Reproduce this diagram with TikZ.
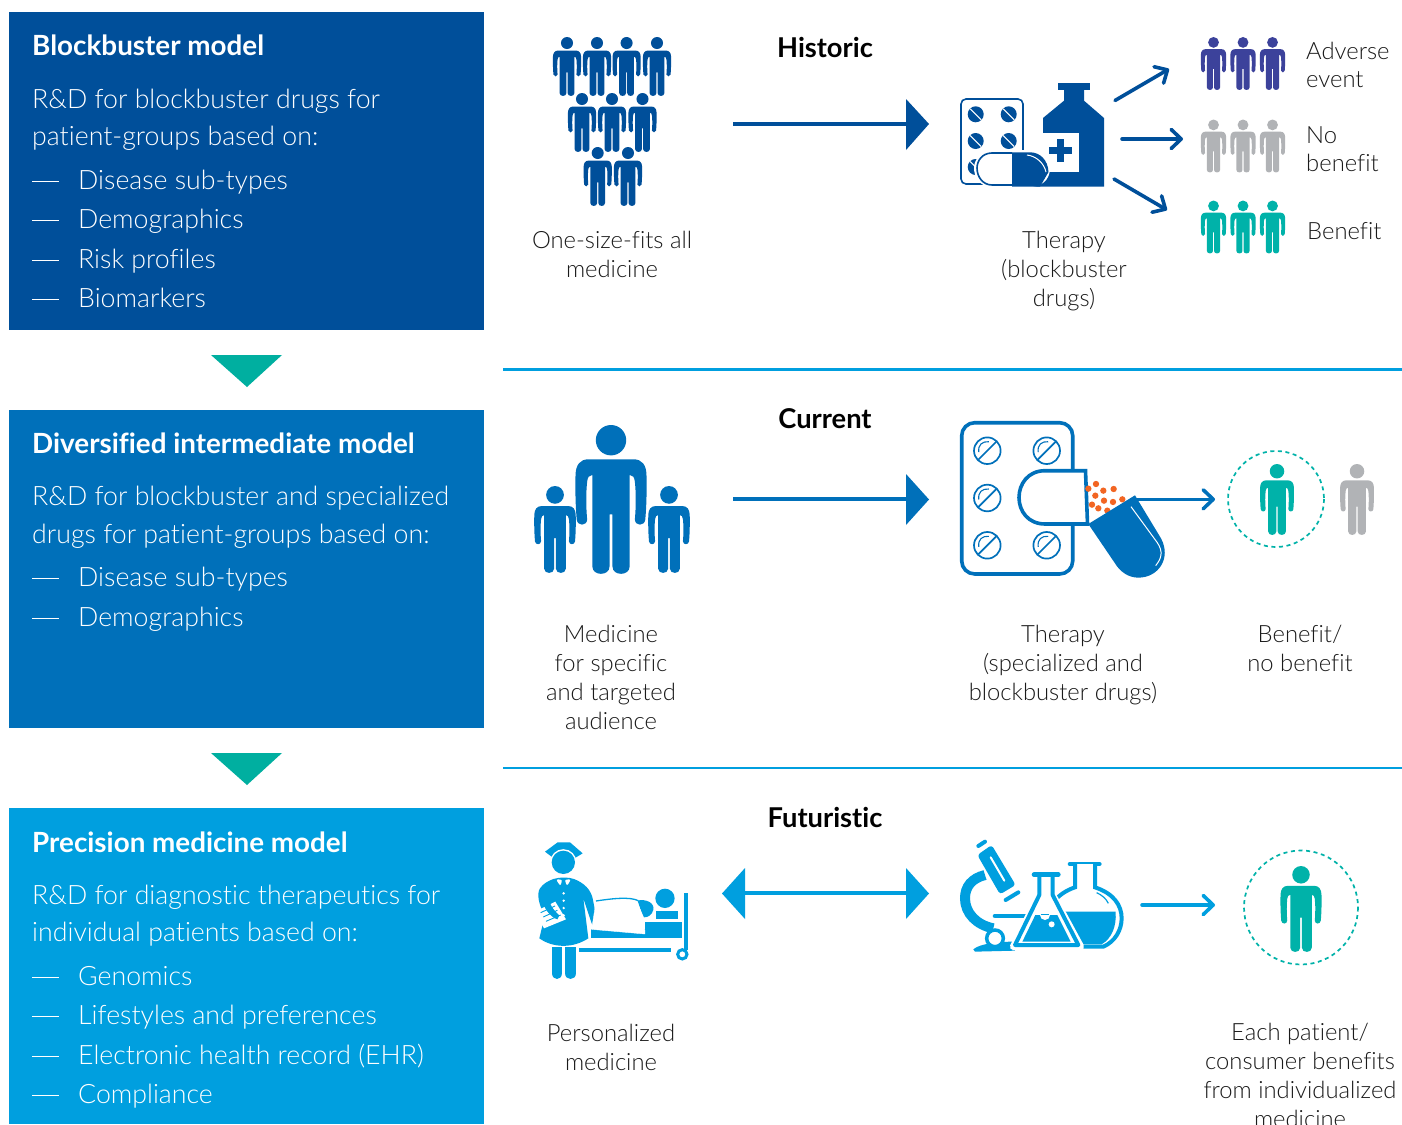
\documentclass[tikz,border=0pt]{standalone}
\usepackage{fontspec}
\usetikzlibrary{arrows.meta}
\IfFontExistsTF{Lato Light}{\setmainfont{Lato Light}[BoldFont=Lato Bold,Ligatures=NoCommon]}{\setmainfont{Liberation Sans}}
\definecolor{cA}{HTML}{004F9A}
\definecolor{cB}{HTML}{0070BA}
\definecolor{cC}{HTML}{009FDF}
\definecolor{teal}{HTML}{00B2A9}
\definecolor{tealB}{HTML}{00AFA0}
\definecolor{purp}{HTML}{3C429B}
\definecolor{gry}{HTML}{B1B3B6}
\definecolor{orng}{HTML}{F26522}
\definecolor{ink}{HTML}{1A1A1A}
\newcommand{\person}[4]{%
 \begin{scope}[shift={(#1,#2)},scale=#3/100]
 \fill[#4] (0,10.2) circle (10.2);
 \fill[#4] (-15,23) -- (15,23) .. controls (21,23) and (23.5,27) .. (23.8,33)
  .. controls (24.1,45) and (23.7,56) .. (23,63.5) .. controls (22.5,68) and (16.3,68) .. (16,63.5)
  .. controls (16.8,55) and (16.8,45) .. (16,38) .. controls (15.7,35) and (14.5,33.5) .. (12.5,33.5)
  -- (12.5,95) .. controls (12.5,101.5) and (1,101.5) .. (1,95) -- (1,60) -- (-1,60) -- (-1,95)
  .. controls (-1,101.5) and (-12.5,101.5) .. (-12.5,95) -- (-12.5,33.5)
  .. controls (-14.5,33.5) and (-15.7,35) .. (-16,38) .. controls (-16.8,45) and (-16.8,55) .. (-16,63.5)
  .. controls (-16.3,68) and (-22.5,68) .. (-23,63.5) .. controls (-23.7,56) and (-24.1,45) .. (-23.8,33)
  .. controls (-23.5,27) and (-21,23) .. (-15,23) -- cycle;
 \end{scope}}
\newcommand{\pillA}[2]{%
 \fill[cA] (#1,#2) circle (8);
 \draw[white,line width=1.1pt] (#1-5.5,#2-5.5) -- (#1+5.5,#2+5.5);}
\newcommand{\pillB}[2]{%
 \draw[cB,line width=1.7pt,fill=white] (#1,#2) circle (13.3);
 \draw[cB,line width=1.7pt] (#1-9,#2+9) -- (#1+9,#2-9);
 \draw[cB,line width=1.1pt] (#1-8.5,#2+1.5) .. controls (#1-9.5,#2-6) and (#1-5,#2-9.5) .. (#1+1.5,#2-9);}
\tikzset{
 pane/.style={anchor=north west,inner sep=0pt,minimum width=475pt},
 head/.style={anchor=base west,inner sep=0pt,text=white,font=\bfseries\fontsize{27.8}{30}\selectfont},
 body/.style={anchor=base west,inner sep=0pt,text=white,font=\fontsize{26.7}{30}\selectfont},
 dashmark/.style={white,line width=1pt},
 lab/.style={anchor=base,inner sep=0pt,text=ink,align=center,font=\fontsize{23.8}{29}\selectfont},
 labl/.style={anchor=base west,inner sep=0pt,text=ink,align=left,font=\fontsize{23.8}{28}\selectfont},
 era/.style={anchor=base,inner sep=0pt,text=black,font=\bfseries\fontsize{27.3}{30}\selectfont},
 fat/.style={line width=4.6pt},
 thin/.style={line width=3.6pt,line cap=round,-{Straight Barb[length=10pt,width=19pt,round]}},
 rule/.style={cC,line width=2.6pt},
}
\newcommand{\tick}[1]{\draw[dashmark] (32,#1) -- (59,#1);}
\begin{document}
\begin{tikzpicture}[x=1pt,y=-1pt]
\useasboundingbox (0,0) rectangle (1402,1124);
\fill[white] (0,0) rectangle (1402,1124);
% panes
\node[pane,fill=cA,minimum height=318pt] (p1) at (9,12) {};
\node[pane,fill=cB,minimum height=318pt] (p2) at (9,410) {};
\node[pane,fill=cC,minimum height=316pt] (p3) at (9,808) {};
\fill[tealB] (211,355) -- (282,355) -- (247,387) -- cycle;
\fill[tealB] (211,753) -- (282,753) -- (247,785) -- cycle;
\coordinate (r1a) at (503,369.5); \coordinate (r1b) at (1402,369.5);
\coordinate (r2a) at (503,768); \coordinate (r2b) at (1402,768);
\draw[rule] (r1a) -- (r1b);
\draw[rule] (r2a) -- (r2b);
% pane texts
\node[head] (t1) at (32,56) {Blockbuster model};
\node[body] (t1a) at (32,108) {R\&D for blockbuster drugs for};
\node[body] (t1b) at (32,145) {patient-groups based on:};
\node[body] (t1c) at (78,189) {Disease sub-types};
\node[body] (t1d) at (78,228) {Demographics};
\node[body] (t1e) at (78,268) {Risk profiles};
\node[body] (t1f) at (78,307) {Biomarkers};
\tick{181}\tick{220}\tick{260}\tick{299}
\node[head] (t2) at (32,453) {Diversified intermediate model};
\node[body] (t2a) at (32,505) {R\&D for blockbuster and specialized};
\node[body] (t2b) at (32,543) {drugs for patient-groups based on:};
\node[body] (t2c) at (78,586) {Disease sub-types};
\node[body] (t2d) at (78,626) {Demographics};
\tick{578}\tick{618}
\node[head] (t3) at (32,852) {Precision medicine model};
\node[body] (t3a) at (32,904) {R\&D for diagnostic therapeutics for};
\node[body] (t3b) at (32,941) {individual patients based on:};
\node[body] (t3c) at (78,985) {Genomics};
\node[body] (t3d) at (78,1024) {Lifestyles and preferences};
\node[body] (t3e) at (78,1064) {Electronic health record (EHR)};
\node[body] (t3f) at (78,1103) {Compliance};
\tick{977}\tick{1016}\tick{1056}\tick{1095}
% era labels
\node[era] (e1) at (825,57.5) {Historic};
\node[era] (e2) at (825,428.5) {Current};
\node[era] (e3) at (825,827.5) {Futuristic};
% labels (anchor = baseline of last line)
\node[lab] (l1) at (612,277) {One-size-fits all\\medicine};
\node[lab] (l2) at (1064,306) {Therapy\\(blockbuster\\drugs)};
\node[labl] (l3) at (1306,87) {Adverse\\event};
\node[labl] (l4) at (1306,171) {No\\benefit};
\node[labl] (l5) at (1307,239) {Benefit};
\node[lab] (l6) at (611,729) {Medicine\\for specific\\and targeted\\audience};
\node[lab] (l7) at (1063,700) {Therapy\\(specialized and\\blockbuster drugs)};
\node[lab] (l8) at (1300,671) {Benefit/\\no benefit};
\node[lab] (l9) at (611,1070) {Personalized\\medicine};
\node[lab] (l10) at (1300,1127.5) {Each patient/\\consumer benefits\\from individualized\\medicine};
% people row 1
\foreach \px in {567,597,626.6,657}{\person{\px}{37}{59}{cA}}
\foreach \px in {582,612,642.5}{\person{\px}{93}{59}{cA}}
\foreach \px in {597.7,628}{\person{\px}{147}{59}{cA}}
\foreach \px in {1213.5,1243,1272.5}{\person{\px}{37}{53}{purp}}
\foreach \px in {1213.5,1243,1272.5}{\person{\px}{119.5}{53}{gry}}
\foreach \px in {1213.5,1243,1272.5}{\person{\px}{200.5}{53}{teal}}
% big arrows
\coordinate (a1a) at (733,124); \coordinate (a1b) at (908,124);
\draw[cA,fat] (a1a) -- (a1b);
\fill[cA] (906,99) -- (929,124) -- (906,150) -- cycle;
\coordinate (a2a) at (733,499); \coordinate (a2b) at (908,499);
\draw[cB,fat] (a2a) -- (a2b);
\fill[cB] (906,474) -- (929,499.5) -- (906,525) -- cycle;
\coordinate (a3a) at (743,893); \coordinate (a3b) at (908,893);
\draw[cC,fat] (a3a) -- (a3b);
\fill[cC] (906,868) -- (929,893.5) -- (906,919) -- cycle;
\fill[cC] (745,868) -- (722,893.5) -- (745,919) -- cycle;
% small arrows
\coordinate (s1a) at (1115,100.5); \coordinate (s1b) at (1169,69);
\coordinate (s2a) at (1122,139); \coordinate (s2b) at (1183,139);
\coordinate (s3a) at (1114,179); \coordinate (s3b) at (1167,210);
\draw[cA,thin] (s1a) -- (s1b);
\draw[cA,thin] (s2a) -- (s2b);
\draw[cA,thin] (s3a) -- (s3b);
% historic therapy
\draw[cA,line width=1.6pt,rounded corners=5pt] (961,99) rectangle (1023,184);
\pillA{975.7}{114.3}\pillA{1008.7}{114.3}\pillA{975.7}{141}\pillA{1008.7}{141}\pillA{975.7}{167}
\fill[cA] (1057.7,83.3) rectangle (1090,90);
\fill[cA] (1064,90) -- (1084,90) -- (1084,100.7) -- (1104,118) -- (1104,186.7) -- (1032,186.7) -- (1043,171.7) -- (1043,118) -- (1064,100.7) -- cycle;
\fill[white] (1043,133) rectangle (1079,171.7);
\fill[cA] (1049,147) rectangle (1072,154.4);
\fill[cA] (1056.7,139) rectangle (1064.4,162.4);
\filldraw[draw=white,fill=white,line width=2pt] (992,151) -- (1032,151) .. controls (1042,151) and (1049,160) .. (1049,168) .. controls (1049,180) and (1040,186) .. (1030,186) -- (992,186) .. controls (980,186) and (975,176) .. (975,168) .. controls (975,160) and (982,151) .. (992,151) -- cycle;
\draw[cA,line width=1.6pt] (1012,153) -- (992,153) .. controls (982,153) and (977,161) .. (977,168) .. controls (977,177) and (983,185) .. (992,185) -- (1012,185);
\fill[cA] (1012,152.3) -- (1030,152.3) .. controls (1040,152.3) and (1048,160) .. (1048.5,172) -- (1040,186.7) -- (1012,186.7) -- cycle;
\draw[white,line width=1pt] (1027,155) .. controls (1036,156) and (1044,163) .. (1046,172);
% current therapy
\draw[cB,line width=3.6pt,rounded corners=13pt] (961.7,422.7) rectangle (1072.7,574);
\foreach \ya in {450.7,498,545.3}{\pillB{987.3}{\ya}\pillB{1046.7}{\ya}}
\filldraw[cB,fill=white,line width=3.6pt] (1085.5,470.7) -- (1045,470.7) .. controls (1028,470.7) and (1019,484) .. (1019,497.5) .. controls (1019,511) and (1028,524) .. (1045,524) -- (1087.5,524) -- cycle;
\begin{scope}[shift={(950,410)},scale=0.3333]
\foreach \dx/\dy in {415/236,438/222,460/242,491/237,436/257,462/272,489/276,517/268,426/284,445/295,472/302}
  \fill[orng] (\dx,\dy) circle (9.5);
\fill[cB] (415,342) -- (555,256) -- (633,385) .. controls (665,445) and (625,503) .. (565,503) .. controls (535,503) and (510,485) .. (495,460) -- cycle;
\draw[white,line width=1pt] (543,290) -- (622,398) .. controls (640,425) and (635,445) .. (617,467);
\end{scope}
\coordinate (s4a) at (1135,499.3); \coordinate (s4b) at (1215,499.3);
\draw[cB,thin] (s4a) -- (s4b);
% current people
\person{611}{425}{149}{cB}
\person{555}{486}{87}{cB}
\person{669}{486}{87}{cB}
\person{1277}{464}{71}{teal}
\person{1357}{464}{71}{gry}
\draw[teal,line width=1.7pt,dash pattern=on 4pt off 3.6pt] (1276,499) circle (48);
% futuristic people
\person{1301}{866}{86}{teal}
\draw[teal,line width=1.7pt,dash pattern=on 4pt off 3.6pt] (1301,907.5) circle (57);
\coordinate (s5a) at (1142,905); \coordinate (s5b) at (1215,905);
\draw[cC,thin] (s5a) -- (s5b);
% nurse
\begin{scope}[shift={(520,830)},scale=0.3333]
\fill[cC] (75,65) -- (113,37) -- (150,37) -- (188,70) -- (165,84) -- (100,84) -- cycle;
\fill[white] (130,97) circle (39.5);
\fill[cC] (130,97) circle (35);
\fill[cC] (100,147) .. controls (120,141) and (145,141) .. (162,147) .. controls (195,160) and (212,180) .. (218,205) -- (232,278) .. controls (232,290) and (218,292) .. (215,280) -- (190,205) -- (205,325) .. controls (160,355) and (100,355) .. (58,325) -- (75,255) .. controls (55,225) and (50,190) .. (60,175) .. controls (70,160) and (85,153) .. (100,147) -- cycle;
\fill[white,rounded corners=2pt] (108,148) -- (127,149) -- (121,168) -- cycle;
\fill[white,rounded corners=2pt] (153,148) -- (134,149) -- (141,168) -- cycle;
\foreach \by in {190,212,234,256}{\fill[white] (131,\by) circle (4);}
\fill[white] (45,245) -- (106,215) -- (138,268) -- (72,295) -- cycle;
\draw[cC,line width=0.9pt] (62,248) -- (105,228) (70,261) -- (112,241) (78,274) -- (122,255);
\fill[cC] (68,205) .. controls (66,228) and (90,262) .. (112,268) -- (118,256) .. controls (100,240) and (88,225) .. (88,205) -- cycle;
\fill[cC] (95,350) rectangle (127,430);
\fill[cC] (95,430) .. controls (95,453) and (127,453) .. (127,430) -- cycle;
\fill[cC] (135,350) rectangle (168,430);
\fill[cC] (135,430) .. controls (135,453) and (168,453) .. (168,430) -- cycle;
% bed
\fill[cC] (213,298) rectangle (380,325);
\fill[cC] (375,275) rectangle (487,325);
\fill[cC] (408,243) rectangle (475,268);
\fill[cC] (435,205) circle (29);
\fill[cC] (350,212) .. controls (380,205) and (405,220) .. (400,240) .. controls (395,255) and (385,262) .. (372,262) -- cycle;
\filldraw[draw=white,fill=white] (228,215) .. controls (280,205) and (330,203) .. (352,213) .. controls (365,250) and (375,285) .. (375,312) -- (215,298) -- cycle;
\draw[cC,line width=1.3pt] (228,213) .. controls (280,205) and (330,200) .. (355,212);
\fill[cC] (493,190) rectangle (505,360);
\draw[cC,line width=3pt] (487,373) circle (14);
\fill[cC] (177,355) rectangle (452,367);
\end{scope}
% lab
\begin{scope}[shift={(950,830)},scale=0.3333]
\draw[cC,line width=4pt,line cap=round] (85,48) -- (105,35);
\fill[cC,rounded corners=3pt] (82,75) -- (125,45) -- (197,165) -- (150,193) -- cycle;
\draw[white,line width=2pt,line cap=round] (122,82) -- (163,152);
\draw[cC,line width=4pt,line cap=round] (167,210) -- (205,187);
\draw[cC,line width=10pt] (105,135) .. controls (65,145) and (45,170) .. (45,205) .. controls (45,250) and (80,285) .. (130,295);
\draw[cC,line width=4.6pt,line cap=round] (135,258) -- (232,258);
\fill[cC] (70,358) .. controls (90,340) and (150,335) .. (190,335) -- (195,362) -- (75,365) -- cycle;
\filldraw[draw=cC,fill=white,line width=3.5pt] (135,325) circle (25);
% round flask
\draw[cC,line width=4.6pt,line cap=round] (360,102) -- (448,102);
\filldraw[draw=cC,fill=white,line width=4pt] (375,102) -- (375,172) .. controls (320,190) and (290,235) .. (290,265) .. controls (290,305) and (310,345) .. (350,350) -- (460,350) .. controls (495,335) and (515,300) .. (515,265) .. controls (515,225) and (490,190) .. (435,172) -- (435,102);
\fill[cC] (300,245) -- (497,245) .. controls (500,290) and (485,325) .. (455,343) -- (345,343) .. controls (320,320) and (300,290) .. (300,245) -- cycle;
\draw[cC,line width=1.2pt] (440,188) .. controls (455,195) and (468,205) .. (475,220);
% conical flask
\filldraw[draw=white,fill=white,line width=7pt,line join=round] (268,135) -- (308,135) -- (308,195) -- (392,350) -- (190,350) -- (268,195) -- cycle;
\draw[cC,line width=4.6pt,line cap=round] (252,134) -- (325,134);
\draw[cC,line width=4pt,line join=round] (268,134) -- (268,195) -- (195,345) -- (385,345) -- (308,195) -- (308,134);
\fill[cC] (256,255) -- (322,255) -- (362,335) -- (217,335) -- cycle;
\fill[white] (285,255) circle (15);
\fill[white] (305,283) circle (9);
\draw[cC,line width=1pt] (272,253) -- (298,253);
\end{scope}
\end{tikzpicture}
\end{document}
